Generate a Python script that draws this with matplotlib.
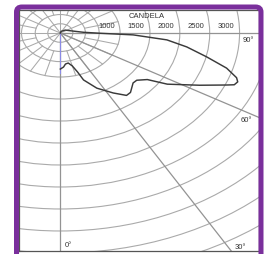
import numpy as np
import matplotlib.pyplot as plt
from matplotlib.patches import FancyBboxPatch, Ellipse

# candela curve, angle from nadir (deg) and intensity (cd)
angles = [0, 4, 7, 11, 15, 18, 20, 26, 33, 38, 41, 47, 50, 54, 57, 63, 67, 68,
          69.5, 71, 74, 77.5, 81.5, 85, 88, 89.5, 92.5, 107, 129, 160]
candela = [820, 775, 710, 695, 775, 930, 1135, 1395, 1625, 1800, 1790, 1665, 1670,
           1800, 2135, 2615, 3025, 3140, 3170, 3120, 2895, 2510, 2140, 1790, 1220,
           665, 385, 175, 105, 40]

ring_labels = ['1000', '1500', '2000', '2500', '3000']
ring_values = [1000, 1500, 2000, 2500, 3000]
inner_rings = [210, 420, 650]
outer_rings = [1000, 1500, 2000, 2500, 3000, 3500, 4000, 4500, 5000, 5500, 6000]
major_angles = [0, 30, 60, 90]
angle_labels = ['0°', '30°', '60°', '90°']

W, H = 269, 254
fig = plt.figure(figsize=(W / 100, H / 100), dpi=100)
fig.patch.set_facecolor('white')

ax = fig.add_axes([18.5 / W, 3 / H, (258.5 - 18.5) / W, (251 - 10) / H])
ax.set_xlim(-700, 3317)
ax.set_ylim(-4955, 523)
ax.set_xticks([])
ax.set_yticks([])
for s in ax.spines.values():
    s.set_color('#555555')
    s.set_linewidth(0.9)

# purple frame on top
frame = FancyBboxPatch((16.5 / W, -10 / H), 244.5 / W, (H - 7 + 10) / H,
                       boxstyle='round,pad=0,rounding_size=0.02',
                       transform=fig.transFigure, facecolor='none',
                       edgecolor='#7a2f9c', linewidth=3.6, zorder=5)
fig.patches.append(frame)

grid_c = '#aaaaaa'
for r in inner_rings + outer_rings:
    ax.add_patch(Ellipse((0, 0), 2 * r, 2 * r, fill=False, edgecolor=grid_c,
                         linewidth=0.8))


def xy(theta, r):
    t = np.radians(theta)
    return r * np.sin(t), -r * np.cos(t)


# inner radial web
for a in range(0, 360, 15):
    r0 = 0 if a % 30 == 0 else inner_rings[1]
    x0, y0 = xy(a, r0)
    x1, y1 = xy(a, 1000)
    ax.plot([x0, x1], [y0, y1], color=grid_c, lw=0.75)

# long radial lines
for a in major_angles:
    x1, y1 = xy(a, 9000)
    ax.plot([0, x1], [0, y1], color='#939393', lw=0.9)
ax.plot([0, 0], [0, -900], color='#8a8ae6', lw=0.8)

# candela curve, closed to the centre
cx, cy = xy(np.array(angles), np.array(candela))
cx = np.append(cx, 0)
cy = np.append(cy, 0)
ax.plot(cx, cy, color='#3a3a3a', lw=1.05, solid_joinstyle='round')

fnt = dict(family='Liberation Sans', fontsize=5.5, color='#333333')
ax.text(1442, 386, 'CANDELA', ha='center', va='center', **fnt)
for v, lab in zip(ring_values, ring_labels):
    ax.text(v - 230, 140, lab, ha='center', va='center', **fnt)
label_pos = [(133, -4841), (3017, -4886), (3112, -2000), (3150, -159)]
for (x, y), lab in zip(label_pos, angle_labels):
    ax.text(x, y, lab, ha='center', va='center', **fnt)

fig.savefig('out.png', dpi=100)
